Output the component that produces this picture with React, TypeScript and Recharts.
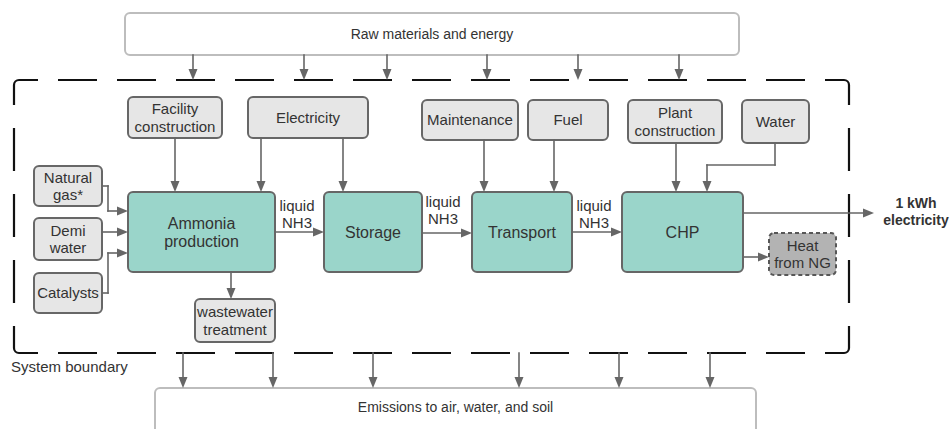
import {
  ComposedChart,
  ReferenceArea,
  ReferenceLine,
  Scatter,
  XAxis,
  YAxis,
} from "recharts";

type Box = {
  x1: number;
  y1: number;
  x2: number;
  y2: number;
  lines: string[];
  textTop?: number;
};

type Label = { x: number; y: number; lines: string[] };
type Pt = { x: number; y: number };

const W = 952;
const H = 429;
const FONT = '"Liberation Sans", Arial, sans-serif';

// boxes (diagram coordinates)
const outerBoxes: Box[] = [
  { x1: 125, y1: 13, x2: 739, y2: 55, lines: ["Raw materials and energy"] },
  { x1: 155, y1: 388, x2: 756, y2: 440, lines: ["Emissions to air, water, and soil"], textTop: 19 },
];

const inputBoxes: Box[] = [
  { x1: 128, y1: 97, x2: 222, y2: 138, lines: ["Facility", "construction"] },
  { x1: 248, y1: 97, x2: 368, y2: 138, lines: ["Electricity"] },
  { x1: 422, y1: 100, x2: 518, y2: 140, lines: ["Maintenance"] },
  { x1: 528, y1: 100, x2: 608, y2: 140, lines: ["Fuel"] },
  { x1: 628, y1: 100, x2: 722, y2: 143, lines: ["Plant", "construction"] },
  { x1: 742, y1: 100, x2: 809, y2: 143, lines: ["Water"] },
  { x1: 34, y1: 166, x2: 102, y2: 206, lines: ["Natural", "gas*"] },
  { x1: 34, y1: 218, x2: 102, y2: 260, lines: ["Demi", "water"] },
  { x1: 34, y1: 273, x2: 102, y2: 313, lines: ["Catalysts"] },
  { x1: 195, y1: 299, x2: 275, y2: 342, lines: ["wastewater", "treatment"] },
];

const processBoxes: Box[] = [
  { x1: 128, y1: 192, x2: 275, y2: 272, lines: ["Ammonia", "production"] },
  { x1: 324, y1: 192, x2: 422, y2: 272, lines: ["Storage"] },
  { x1: 472, y1: 192, x2: 572, y2: 272, lines: ["Transport"] },
  { x1: 622, y1: 192, x2: 743, y2: 272, lines: ["CHP"] },
];

const heatBoxes: Box[] = [
  { x1: 769, y1: 233, x2: 836, y2: 275, lines: ["Heat", "from NG"] },
];

const boundary = { x1: 14, y1: 80, x2: 849, y2: 353 };

// arrows
const supplyX = [193, 304, 387, 487, 578, 679];
const emissionX = [183, 273, 373, 519, 619, 710];

const flows: Pt[][] = [
  [{ x: 175, y: 138 }, { x: 175, y: 192 }],
  [{ x: 261, y: 138 }, { x: 261, y: 192 }],
  [{ x: 343, y: 138 }, { x: 343, y: 192 }],
  [{ x: 484, y: 140 }, { x: 484, y: 192 }],
  [{ x: 554, y: 140 }, { x: 554, y: 192 }],
  [{ x: 676, y: 143 }, { x: 676, y: 192 }],
  [{ x: 775, y: 143 }, { x: 775, y: 165 }, { x: 707, y: 165 }, { x: 707, y: 192 }],
  [{ x: 102, y: 186 }, { x: 108, y: 186 }, { x: 108, y: 211 }, { x: 128, y: 211 }],
  [{ x: 102, y: 232 }, { x: 128, y: 232 }],
  [{ x: 102, y: 293 }, { x: 108, y: 293 }, { x: 108, y: 253 }, { x: 128, y: 253 }],
  [{ x: 275, y: 232 }, { x: 324, y: 232 }],
  [{ x: 422, y: 233 }, { x: 472, y: 233 }],
  [{ x: 572, y: 232 }, { x: 622, y: 232 }],
  [{ x: 743, y: 213 }, { x: 874, y: 213 }],
  [{ x: 743, y: 257 }, { x: 769, y: 257 }],
  [{ x: 231, y: 272 }, { x: 231, y: 299 }],
];

// free text (y = first baseline)
const flowLabels: Label[] = [
  { x: 297, y: 211, lines: ["liquid", "NH3"] },
  { x: 443, y: 207, lines: ["liquid", "NH3"] },
  { x: 594, y: 211, lines: ["liquid", "NH3"] },
];
const outputLabels: Label[] = [{ x: 916, y: 208, lines: ["1 kWh", "electricity"] }];
const boundaryLabels: Label[] = [{ x: 11, y: 372, lines: ["System boundary"] }];

type BoxStyle = {
  fill: string;
  stroke: string;
  dash?: string;
  size: number;
  lh: number;
};

const styles: Record<string, BoxStyle> = {
  outer: { fill: "#ffffff", stroke: "#bdbdbd", size: 14, lh: 17 },
  input: { fill: "#e6e6e6", stroke: "#676767", size: 15, lh: 17.5 },
  process: { fill: "#9ad5ca", stroke: "#666666", size: 16, lh: 18 },
  heat: { fill: "#b3b3b3", stroke: "#575757", dash: "4 3", size: 15, lh: 17 },
};

function boxShape(box: Box, st: BoxStyle) {
  return (p: any) => {
    const { x, y, width, height } = p;
    const mid = y + (box.textTop ?? height / 2);
    const first = mid - ((box.lines.length - 1) * st.lh) / 2 + st.size * 0.36;
    return (
      <g>
        <rect
          x={x}
          y={y}
          width={width}
          height={height}
          rx={5}
          fill={st.fill}
          stroke={st.stroke}
          strokeWidth={2}
          strokeDasharray={st.dash}
        />
        <text
          x={x + width / 2}
          textAnchor="middle"
          fontFamily={FONT}
          fontSize={st.size}
          fill="#333"
        >
          {box.lines.map((l, i) => (
            <tspan key={i} x={x + width / 2} y={first + i * st.lh}>
              {l}
            </tspan>
          ))}
        </text>
      </g>
    );
  };
}

function boundaryShape(p: any) {
  const { x, y, width, height } = p;
  const r = 5;
  const x2 = x + width;
  const y2 = y + height;
  const common = { fill: "none", stroke: "#111", strokeWidth: 2.2 };
  const hz = { ...common, strokeDasharray: "39 20", strokeDashoffset: 20 };
  const vt = { ...common, strokeDasharray: "43 23", strokeDashoffset: 23 };
  return (
    <g>
      <path d={`M${x},${y + r}A${r},${r} 0 0 1 ${x + r},${y}`} {...common} />
      <path d={`M${x2 - r},${y}A${r},${r} 0 0 1 ${x2},${y + r}`} {...common} />
      <path d={`M${x2},${y2 - r}A${r},${r} 0 0 1 ${x2 - r},${y2}`} {...common} />
      <path d={`M${x + r},${y2}A${r},${r} 0 0 1 ${x},${y2 - r}`} {...common} />
      <path d={`M${x + r},${y}L${x2 - r},${y}`} {...hz} />
      <path d={`M${x + r},${y2}L${x2 - r},${y2}`} {...hz} />
      <path d={`M${x},${y + r}L${x},${y2 - r}`} {...vt} />
      <path d={`M${x2},${y + r}L${x2},${y2 - r}`} {...vt} />
    </g>
  );
}

function arrowShape(head: boolean) {
  return (p: any) => {
    const x1 = Number(p.x1);
    const y1 = Number(p.y1);
    const x2 = Number(p.x2);
    const y2 = Number(p.y2);
    const a = Math.atan2(y2 - y1, x2 - x1);
    const len = 11;
    const hw = 4.5;
    const bx = x2 - len * Math.cos(a);
    const by = y2 - len * Math.sin(a);
    const nx = -Math.sin(a) * hw;
    const ny = Math.cos(a) * hw;
    return (
      <g>
        <line
          x1={x1}
          y1={y1}
          x2={head ? bx : x2}
          y2={head ? by : y2}
          stroke="#666"
          strokeWidth={1.6}
          strokeLinecap="square"
        />
        {head && (
          <polygon
            points={`${x2},${y2} ${bx + nx},${by + ny} ${bx - nx},${by - ny}`}
            fill="#666"
          />
        )}
      </g>
    );
  };
}

function labelShape(bold: boolean, anchor: "middle" | "start") {
  return (p: any) => {
    const { cx, cy, payload } = p;
    const lh = 17;
    return (
      <text
        textAnchor={anchor}
        fontFamily={FONT}
        fontSize={bold ? 14 : 15}
        fontWeight={bold ? "bold" : "normal"}
        fill={bold ? "#333" : "#333"}
      >
        {(payload.lines as string[]).map((l, i) => (
          <tspan key={i} x={cx} y={cy + i * lh}>
            {l}
          </tspan>
        ))}
      </text>
    );
  };
}

const polylineSegments = (pts: Pt[]) =>
  pts.slice(1).map((pt, i) => ({ a: pts[i], b: pt, last: i === pts.length - 2 }));

export default function App() {
  const segments = [
    ...supplyX.map((x) => [{ x, y: 55 }, { x, y: 80 }]),
    ...emissionX.map((x) => [{ x, y: 353 }, { x, y: 388 }]),
    ...flows,
  ].flatMap(polylineSegments);

  return (
    <div style={{ position: "absolute", left: 0, top: 0, background: "#fff" }}>
      <ComposedChart width={W} height={H} margin={{ top: 0, right: 0, bottom: 0, left: 0 }}>
        <XAxis type="number" dataKey="x" domain={[0, W]} allowDataOverflow hide />
        <YAxis type="number" dataKey="y" domain={[0, H]} allowDataOverflow reversed hide />

        <ReferenceArea
          x1={boundary.x1}
          x2={boundary.x2}
          y1={boundary.y1}
          y2={boundary.y2}
          ifOverflow="visible"
          shape={boundaryShape}
        />

        {segments.map((s, i) => (
          <ReferenceLine
            key={`seg-${i}`}
            segment={[s.a, s.b]}
            ifOverflow="visible"
            shape={arrowShape(s.last)}
          />
        ))}

        {outerBoxes.map((b, i) => (
          <ReferenceArea
            key={`outer-${i}`}
            x1={b.x1}
            x2={b.x2}
            y1={b.y1}
            y2={b.y2}
            ifOverflow="visible"
            shape={boxShape(b, styles.outer)}
          />
        ))}
        {inputBoxes.map((b, i) => (
          <ReferenceArea
            key={`input-${i}`}
            x1={b.x1}
            x2={b.x2}
            y1={b.y1}
            y2={b.y2}
            ifOverflow="visible"
            shape={boxShape(b, styles.input)}
          />
        ))}
        {processBoxes.map((b, i) => (
          <ReferenceArea
            key={`proc-${i}`}
            x1={b.x1}
            x2={b.x2}
            y1={b.y1}
            y2={b.y2}
            ifOverflow="visible"
            shape={boxShape(b, styles.process)}
          />
        ))}
        {heatBoxes.map((b, i) => (
          <ReferenceArea
            key={`heat-${i}`}
            x1={b.x1}
            x2={b.x2}
            y1={b.y1}
            y2={b.y2}
            ifOverflow="visible"
            shape={boxShape(b, styles.heat)}
          />
        ))}

        <Scatter data={flowLabels} isAnimationActive={false} shape={labelShape(false, "middle")} />
        <Scatter data={outputLabels} isAnimationActive={false} shape={labelShape(true, "middle")} />
        <Scatter data={boundaryLabels} isAnimationActive={false} shape={labelShape(false, "start")} />
      </ComposedChart>
    </div>
  );
}
